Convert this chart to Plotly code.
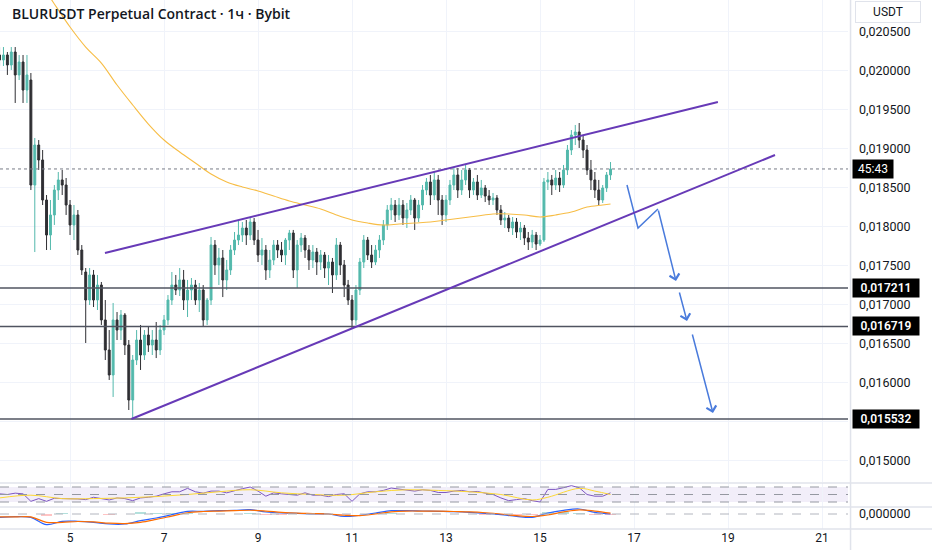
"""
BLURUSDT perpetual, Bybit - rising wedge with projected breakdown
TradingView-style chart rebuilt in Plotly (candles shown at 2h resolution)
"""

import pandas as pd
import plotly.graph_objects as go
from plotly.subplots import make_subplots

# ============================================================================
# DATA
# ============================================================================
candle_times = pd.date_range("2025-06-03 12:00", periods=157, freq="2h")

opens = [
    0.020198, 0.020134, 0.020198, 0.020070, 0.020236, 0.019942, 0.020108, 0.019749, 0.019877, 0.018531,
    0.019044, 0.018852, 0.018339, 0.017890, 0.018147, 0.018467, 0.018596, 0.018531, 0.018275, 0.018019,
    0.018147, 0.017698, 0.017416, 0.017057, 0.017378, 0.017057, 0.017249, 0.016801, 0.016416, 0.016096,
    0.016801, 0.016672, 0.016865, 0.016480, 0.015775, 0.016288, 0.016544, 0.016352, 0.016608, 0.016480,
    0.016544, 0.016416, 0.016672, 0.016801, 0.017057, 0.017249, 0.017185, 0.017314, 0.017057, 0.017185,
    0.017249, 0.017057, 0.017185, 0.016801, 0.017057, 0.017762, 0.017506, 0.017596, 0.017314, 0.017442,
    0.017698, 0.017826, 0.017890, 0.017980, 0.017890, 0.018057, 0.017826, 0.017634, 0.017698, 0.017442,
    0.017570, 0.017762, 0.017698, 0.017634, 0.017826, 0.017916, 0.017442, 0.017762, 0.017852, 0.017698,
    0.017570, 0.017672, 0.017544, 0.017634, 0.017467, 0.017544, 0.017378, 0.017762, 0.017506, 0.017249,
    0.017057, 0.016801, 0.017185, 0.017544, 0.017826, 0.017634, 0.017544, 0.017698, 0.017826, 0.018019,
    0.018211, 0.018275, 0.018147, 0.018275, 0.018108, 0.018211, 0.018339, 0.018108, 0.018275, 0.018467,
    0.018570, 0.018403, 0.018596, 0.018339, 0.018147, 0.018339, 0.018531, 0.018660, 0.018467, 0.018596,
    0.018724, 0.018467, 0.018570, 0.018403, 0.018493, 0.018390, 0.018339, 0.018365, 0.018211, 0.018083,
    0.018108, 0.017980, 0.018057, 0.017929, 0.017980, 0.017852, 0.017801, 0.017890, 0.017775, 0.017826,
    0.018570, 0.018596, 0.018531, 0.018621, 0.018531, 0.018724, 0.018980, 0.019172, 0.019211, 0.019108,
    0.018980, 0.018724, 0.018596, 0.018467, 0.018339, 0.018493, 0.018660,
]
highs = [
    0.020300, 0.020300, 0.020236, 0.020300, 0.020300, 0.020198, 0.020198, 0.020198, 0.019967, 0.019134,
    0.019108, 0.018980, 0.018403, 0.018339, 0.018531, 0.018698, 0.018724, 0.018621, 0.018339, 0.018275,
    0.018211, 0.017762, 0.017467, 0.017467, 0.017442, 0.017378, 0.017288, 0.017057, 0.016672, 0.017019,
    0.016903, 0.016929, 0.016890, 0.016544, 0.016352, 0.016672, 0.016737, 0.016672, 0.016724, 0.016672,
    0.016775, 0.016737, 0.016865, 0.017121, 0.017416, 0.017378, 0.017467, 0.017442, 0.017314, 0.017339,
    0.017314, 0.017275, 0.017249, 0.017083, 0.017865, 0.017826, 0.017724, 0.017698, 0.017570, 0.017762,
    0.017929, 0.018083, 0.018057, 0.018083, 0.018121, 0.018108, 0.017955, 0.017852, 0.017762, 0.017698,
    0.017826, 0.017826, 0.017801, 0.017852, 0.017955, 0.017955, 0.017826, 0.017916, 0.017890, 0.017762,
    0.017762, 0.017724, 0.017698, 0.017672, 0.017634, 0.017596, 0.017852, 0.017801, 0.017570, 0.017314,
    0.017121, 0.017249, 0.017596, 0.017890, 0.017865, 0.017762, 0.017762, 0.017890, 0.018083, 0.018275,
    0.018365, 0.018339, 0.018365, 0.018339, 0.018301, 0.018403, 0.018365, 0.018339, 0.018531, 0.018621,
    0.018660, 0.018698, 0.018660, 0.018403, 0.018403, 0.018596, 0.018762, 0.018749, 0.018724, 0.018788,
    0.018749, 0.018621, 0.018660, 0.018596, 0.018531, 0.018467, 0.018429, 0.018403, 0.018275, 0.018185,
    0.018147, 0.018121, 0.018108, 0.018057, 0.018019, 0.017929, 0.017955, 0.017929, 0.017890, 0.018621,
    0.018698, 0.018660, 0.018724, 0.018698, 0.018788, 0.019044, 0.019236, 0.019301, 0.019326, 0.019172,
    0.019044, 0.018852, 0.018698, 0.018596, 0.018531, 0.018698, 0.018826,
]
lows = [
    0.020057, 0.020057, 0.019942, 0.020006, 0.019583, 0.019877, 0.019583, 0.019583, 0.018467, 0.017672,
    0.018724, 0.018275, 0.017698, 0.017698, 0.018019, 0.018339, 0.018403, 0.018147, 0.017890, 0.017826,
    0.017634, 0.017378, 0.016506, 0.016993, 0.016967, 0.016929, 0.016737, 0.016288, 0.016032, 0.015814,
    0.016544, 0.016544, 0.016352, 0.015647, 0.015532, 0.016224, 0.016160, 0.016288, 0.016391, 0.016352,
    0.016313, 0.016352, 0.016608, 0.016737, 0.016993, 0.017121, 0.017108, 0.016929, 0.016839, 0.017057,
    0.016993, 0.016903, 0.016711, 0.016737, 0.016993, 0.017378, 0.017249, 0.017095, 0.017185, 0.017378,
    0.017634, 0.017762, 0.017801, 0.017762, 0.017826, 0.017762, 0.017544, 0.017506, 0.017314, 0.017339,
    0.017506, 0.017596, 0.017544, 0.017506, 0.017698, 0.017339, 0.017211, 0.017672, 0.017596, 0.017442,
    0.017467, 0.017378, 0.017442, 0.017339, 0.017249, 0.017147, 0.017314, 0.017378, 0.017095, 0.016993,
    0.016700, 0.016737, 0.017121, 0.017467, 0.017570, 0.017467, 0.017506, 0.017596, 0.017762, 0.017955,
    0.018083, 0.018057, 0.018083, 0.018019, 0.017980, 0.018147, 0.017955, 0.018057, 0.018211, 0.018403,
    0.018275, 0.018339, 0.018147, 0.018019, 0.018057, 0.018275, 0.018467, 0.018365, 0.018403, 0.018531,
    0.018365, 0.018403, 0.018339, 0.018365, 0.018313, 0.018275, 0.018275, 0.018147, 0.018019, 0.017980,
    0.017929, 0.017890, 0.017852, 0.017826, 0.017762, 0.017698, 0.017724, 0.017698, 0.017749, 0.017801,
    0.018467, 0.018403, 0.018467, 0.018442, 0.018493, 0.018660, 0.018916, 0.019044, 0.019006, 0.018877,
    0.018660, 0.018467, 0.018365, 0.018275, 0.018301, 0.018442, 0.018596,
]
closes = [
    0.020134, 0.020198, 0.020070, 0.020236, 0.019942, 0.020108, 0.019749, 0.019942, 0.018531, 0.019044,
    0.018852, 0.018339, 0.017890, 0.018147, 0.018467, 0.018596, 0.018531, 0.018275, 0.018019, 0.018147,
    0.017698, 0.017442, 0.017057, 0.017378, 0.017057, 0.017249, 0.016801, 0.016416, 0.016096, 0.016801,
    0.016672, 0.016865, 0.016480, 0.015775, 0.016288, 0.016544, 0.016352, 0.016608, 0.016480, 0.016544,
    0.016416, 0.016672, 0.016801, 0.017057, 0.017249, 0.017185, 0.017314, 0.017057, 0.017185, 0.017249,
    0.017057, 0.017185, 0.016801, 0.017057, 0.017762, 0.017506, 0.017596, 0.017314, 0.017442, 0.017698,
    0.017826, 0.017890, 0.017980, 0.017890, 0.018057, 0.017826, 0.017634, 0.017698, 0.017442, 0.017570,
    0.017762, 0.017698, 0.017634, 0.017826, 0.017916, 0.017442, 0.017762, 0.017852, 0.017698, 0.017570,
    0.017672, 0.017544, 0.017634, 0.017467, 0.017544, 0.017378, 0.017762, 0.017506, 0.017249, 0.017057,
    0.016801, 0.017185, 0.017544, 0.017826, 0.017634, 0.017544, 0.017698, 0.017826, 0.018019, 0.018211,
    0.018275, 0.018147, 0.018275, 0.018108, 0.018211, 0.018339, 0.018108, 0.018275, 0.018467, 0.018570,
    0.018403, 0.018596, 0.018339, 0.018147, 0.018339, 0.018531, 0.018660, 0.018467, 0.018596, 0.018724,
    0.018467, 0.018570, 0.018403, 0.018493, 0.018390, 0.018339, 0.018365, 0.018211, 0.018083, 0.018108,
    0.017980, 0.018057, 0.017929, 0.017980, 0.017852, 0.017801, 0.017890, 0.017775, 0.017826, 0.018570,
    0.018596, 0.018531, 0.018621, 0.018531, 0.018724, 0.018980, 0.019172, 0.019211, 0.019108, 0.018980,
    0.018724, 0.018596, 0.018467, 0.018339, 0.018493, 0.018660, 0.018737,
]

# moving average (orange), read at selected candles
ma_index = [12, 14, 18, 22, 26, 30, 34, 38, 42, 46, 50, 54, 58, 62, 66, 70, 74, 78, 82, 86,
            90, 94, 98, 102, 106, 110, 114, 118, 122, 126, 130, 134, 138, 142, 146, 150, 154, 156]
ma_values = [0.021006, 0.020852, 0.020557, 0.020300, 0.020095, 0.019813, 0.019557, 0.019313,
             0.019108, 0.018954, 0.018813, 0.018672, 0.018570, 0.018506, 0.018455, 0.018390,
             0.018326, 0.018275, 0.018224, 0.018147, 0.018083, 0.018044, 0.018019, 0.018031,
             0.018044, 0.018057, 0.018083, 0.018108, 0.018134, 0.018160, 0.018160, 0.018147,
             0.018121, 0.018147, 0.018185, 0.018249, 0.018275, 0.018288]

# RSI, every second candle
rsi_values = [
    51.8, 50, 53.6, 51.8, 31.8, 39.1, 31.8, 40, 39.1, 39.1,
    38.2, 36.4, 42.7, 39.1, 35.5, 40.9, 39.1, 33.6, 40.9, 42.7,
    45.5, 51.8, 57.3, 57.3, 66.4, 57.3, 53.6, 59.1, 59.1, 54.5,
    60.9, 65.5, 70, 59.1, 45.5, 54.5, 51.8, 50, 48.2, 54.5,
    48.2, 48.2, 44.5, 50, 52, 31.8, 51.8, 57.3, 57.3, 60.9,
    67.3, 64.5, 62.7, 59.1, 62.7, 60.9, 55.4, 55.4, 59.1, 60.9,
    57.3, 58.2, 53.6, 50, 40.9, 33.6, 36.4, 39.1, 33.6, 30,
    63.6, 63.6, 68.2, 73.6, 68.2, 50, 45.5, 45.5, 54.5,
]
rsi_ma_index = [0, 8, 16, 24, 32, 40, 48, 56, 64, 72, 80, 88, 96, 104, 112, 120, 128, 136, 140, 148, 152, 156]
rsi_ma_values = [40.9, 48.2, 39.1, 39.1, 40.9, 44.5, 50, 57.3, 62.7, 54.5, 50,
                 48.2, 57.3, 62.7, 60.9, 57.3, 50, 35.5, 42.7, 66.4, 59.1, 50]

# MACD, every fourth candle
macd_values = [-0.00008, -0.000064, -0.00008, -0.000256, -0.000176, -0.000176, -0.0002, -0.00024,
               -0.00024, -0.00016, -0.000096, -0.000016, 0.000064, 0.000064, 0.00008, 0.000088,
               0.000104, 0.000048, 0.000024, 0.000016, 0.0, 0.0, -0.00006, -0.00003,
               0.000024, 0.00008, 0.00008, 0.000072, 0.000064, 0.000056, 0.00004, 0.000016,
               -0.000016, -0.000056, -0.00008, 0.000024, 0.000088, 0.00012, 0.00004, 0.0]
signal_values = [-0.00007, -0.00007, -0.00007, -0.0002, -0.0002, -0.00018, -0.00019, -0.00022,
                 -0.00023, -0.0002, -0.00013, -0.00005, 0.00003, 0.00006, 0.00007, 0.00008,
                 0.00009, 0.00007, 0.00004, 0.00002, 0.00001, 0.0, -0.00003, -0.00004,
                 0.0, 0.00005, 0.00007, 0.00007, 0.00007, 0.00006, 0.00005, 0.00003,
                 0.0, -0.00004, -0.00006, -0.00002, 0.00005, 0.0001, 0.00007, 0.00002]
hist_values = [-0.00001, 0.000006, -0.00001, -0.000056, 0.000024, 0.000004, -0.00001, -0.00002,
               -0.00001, 0.00004, 0.000034, 0.000034, 0.000034, 0.000004, 0.00001, 0.000008,
               0.000014, -0.000022, -0.000016, -0.000004, -0.00001, 0.0, -0.00003, 0.00001,
               0.000024, 0.00003, 0.00001, 0.000002, -0.000006, -0.000004, -0.00001, -0.000014,
               -0.000016, -0.000016, -0.00002, 0.000044, 0.000038, 0.00002, -0.00003, -0.00002]

# drawings
levels = [0.017211, 0.016719, 0.015532]
last_price = 0.018737
countdown = "45:43"
upper_line_times = ["2025-06-05 17:50", "2025-06-18 18:50"]
upper_line_prices = [0.017660, 0.019595]
lower_line_times = ["2025-06-06 07:20", "2025-06-20 00:00"]
lower_line_prices = [0.015532, 0.018916]
proj_times = ["2025-06-16 20:24", "2025-06-17 02:02", "2025-06-17 12:14", "2025-06-17 21:26",
              "2025-06-17 22:58", "2025-06-18 03:03", "2025-06-18 05:35", "2025-06-18 16:19"]
proj_prices = [0.018531, 0.017980, 0.018224, 0.017301, 0.017172, 0.016788, 0.016634, 0.015608]

tick_days = ["2025-06-05", "2025-06-07", "2025-06-09", "2025-06-11", "2025-06-13",
             "2025-06-15", "2025-06-17", "2025-06-19", "2025-06-21"]
tick_labels = ["5", "7", "9", "11", "13", "15", "17", "19", "21"]
# 0.0155 is hidden behind the 0,015532 level label
price_ticks = [0.015, 0.016, 0.0165, 0.017, 0.0175, 0.018, 0.0185, 0.019, 0.0195, 0.020, 0.0205]
grid_only = [0.0155]

# ============================================================================
# STYLE
# ============================================================================
UP = "#53b9ac"
DOWN = "#2f2f33"
GRID = "#f0f3fa"
SEP = "#e0e3eb"
TEXT = "#131722"
PURPLE = "#673ab7"
ARROW = "#4a7bdc"

# ============================================================================
# FIGURE
# ============================================================================
fig = make_subplots(rows=3, cols=1, shared_xaxes=True, vertical_spacing=0)

fig.add_trace(go.Candlestick(
    x=candle_times, open=opens, high=highs, low=lows, close=closes,
    increasing=dict(line=dict(color=UP, width=1), fillcolor=UP),
    decreasing=dict(line=dict(color=DOWN, width=1), fillcolor=DOWN),
    whiskerwidth=0, hoverinfo='skip'
), row=1, col=1)

fig.add_trace(go.Scatter(
    x=candle_times[ma_index], y=ma_values, mode='lines',
    line=dict(color='#f7bd45', width=1.1, shape='spline'), hoverinfo='skip'
), row=1, col=1)

# projected zigzag (plain part)
fig.add_trace(go.Scatter(
    x=proj_times[:3], y=proj_prices[:3], mode='lines',
    line=dict(color=ARROW, width=1.5), hoverinfo='skip'
), row=1, col=1)

# RSI pane
fig.add_trace(go.Scatter(
    x=candle_times[::2], y=rsi_values, mode='lines',
    line=dict(color='#7e57c2', width=1), hoverinfo='skip'
), row=2, col=1)
fig.add_trace(go.Scatter(
    x=candle_times[rsi_ma_index], y=rsi_ma_values, mode='lines',
    line=dict(color='#fdd835', width=1, shape='spline'), hoverinfo='skip'
), row=2, col=1)

# MACD pane
fig.add_trace(go.Bar(
    x=candle_times[::4], y=hist_values,
    marker=dict(color=['rgba(38,166,154,0.35)' if v >= 0 else 'rgba(255,82,82,0.35)' for v in hist_values],
                line=dict(width=0)),
    width=6 * 3600 * 1000, hoverinfo='skip'
), row=3, col=1)
fig.add_trace(go.Scatter(
    x=candle_times[::4], y=macd_values, mode='lines',
    line=dict(color='#2962ff', width=1.2, shape='spline'), hoverinfo='skip'
), row=3, col=1)
fig.add_trace(go.Scatter(
    x=candle_times[::4], y=signal_values, mode='lines',
    line=dict(color='#ff6d00', width=1.2, shape='spline'), hoverinfo='skip'
), row=3, col=1)

# ---- shapes -----------------------------------------------------------------
for g in grid_only:
    fig.add_shape(type='line', xref='paper', yref='y', x0=0, x1=1, y0=g, y1=g,
                  line=dict(color=GRID, width=1), layer='below')
for lv in levels:
    fig.add_shape(type='line', xref='paper', yref='y', x0=0, x1=1, y0=lv, y1=lv,
                  line=dict(color='#505460', width=1.5))
fig.add_shape(type='line', xref='paper', yref='y', x0=0, x1=1, y0=last_price, y1=last_price,
              line=dict(color='#787b86', width=1, dash='dot'))
fig.add_shape(type='line', xref='x', yref='y',
              x0=upper_line_times[0], x1=upper_line_times[1],
              y0=upper_line_prices[0], y1=upper_line_prices[1],
              line=dict(color=PURPLE, width=2))
fig.add_shape(type='line', xref='x', yref='y',
              x0=lower_line_times[0], x1=lower_line_times[1],
              y0=lower_line_prices[0], y1=lower_line_prices[1],
              line=dict(color=PURPLE, width=2))

# RSI band and levels
fig.add_shape(type='rect', xref='paper', yref='y2', x0=0, x1=1, y0=30, y1=70,
              fillcolor='rgba(126,87,194,0.1)', line=dict(width=0), layer='below')
for lv in [30, 50, 70]:
    fig.add_shape(type='line', xref='paper', yref='y2', x0=0, x1=1, y0=lv, y1=lv,
                  line=dict(color='#9598a1', width=1, dash='dash'))
fig.add_shape(type='line', xref='paper', yref='y3', x0=0, x1=1, y0=0, y1=0,
              line=dict(color='#b2b5be', width=1, dash='dash'))

# pane separators and price scale border
for yp in [1 - 483 / 529, 1 - 507 / 529, 0]:
    fig.add_shape(type='line', xref='paper', yref='paper', x0=0, x1=1.1, y0=yp, y1=yp,
                  line=dict(color=SEP, width=1.5))
fig.add_shape(type='line', xref='paper', yref='paper', x0=1.003, x1=1.003, y0=-0.045, y1=1,
              line=dict(color=SEP, width=1.5))

# ---- arrows ------------------------------------------------------------------
for tail, head in [(2, 3), (4, 5), (6, 7)]:
    fig.add_annotation(x=proj_times[head], y=proj_prices[head],
                       ax=proj_times[tail], ay=proj_prices[tail],
                       xref='x', yref='y', axref='x', ayref='y', text='',
                       showarrow=True, arrowhead=4, arrowsize=1.3, arrowwidth=1.5,
                       arrowcolor=ARROW)

# ---- text --------------------------------------------------------------------
fig.add_annotation(text="BLURUSDT Perpetual Contract · 1ч · Bybit",
                   xref='paper', yref='paper', x=10 / 848, y=1 - 13 / 529,
                   xanchor='left', yanchor='middle', showarrow=False,
                   font=dict(family='Open Sans', size=14, color=TEXT, weight=600))
fig.add_annotation(text="USDT", xref='paper', yref='paper', x=888 / 848, y=1 - 12 / 529,
                   xanchor='center', yanchor='middle', showarrow=False,
                   bordercolor=SEP, borderwidth=1, borderpad=3, width=58,
                   font=dict(size=12, color=TEXT))

for lv in levels:
    fig.add_annotation(text=f"{lv:.6f}".replace('.', ','), xref='paper', yref='y',
                       x=852 / 848, y=lv, xanchor='left', yanchor='middle',
                       showarrow=False, bgcolor='black', borderpad=2, width=62,
                       font=dict(size=12, color='white', weight=600))
fig.add_annotation(text=countdown, xref='paper', yref='y', x=852 / 848, y=last_price,
                   xanchor='left', yanchor='middle', showarrow=False, bgcolor='black',
                   borderpad=2, width=36, font=dict(size=12, color='white'))

# ---- axes --------------------------------------------------------------------
fig.update_xaxes(
    range=["2025-06-03 12:14", "2025-06-21 13:16"],
    tickvals=tick_days, ticktext=tick_labels,
    showgrid=True, gridcolor=GRID, gridwidth=1,
    zeroline=False, showline=False, ticks='',
    rangeslider_visible=False
)
fig.update_xaxes(showticklabels=False, row=1, col=1)
fig.update_xaxes(showticklabels=False, row=2, col=1)
fig.update_xaxes(tickfont=dict(size=12, color=TEXT), row=3, col=1)

fig.update_yaxes(
    domain=[1 - 482 / 529, 1], side='right', range=[0.014724, 0.020903],
    tickvals=price_ticks, tickformat='.6f', showgrid=True, gridcolor=GRID,
    zeroline=False, ticklabelstandoff=10, tickfont=dict(size=12.5, color=TEXT),
    row=1, col=1
)
fig.update_yaxes(
    domain=[1 - 507 / 529, 1 - 483 / 529], side='right', range=[16.7, 80.7],
    showticklabels=False, showgrid=False, zeroline=False, row=2, col=1
)
fig.update_yaxes(
    domain=[0, 1 - 507 / 529], side='right', range=[-0.00036, 0.000168],
    tickvals=[0], tickformat='.6f', showgrid=False, zeroline=False,
    ticklabelstandoff=10, tickfont=dict(size=12.5, color=TEXT), row=3, col=1
)

fig.update_layout(
    width=932, height=550,
    margin=dict(l=0, r=84, t=0, b=21),
    paper_bgcolor='white', plot_bgcolor='white',
    showlegend=False, separators=', ',
    font=dict(family='Roboto, sans-serif', size=11, color=TEXT),
    bargap=0
)

# drop the default page margin so the chart sits at the window's corner
fig.write_html("out.html", config={'displayModeBar': False},
               post_script="document.body.style.margin='0';")
